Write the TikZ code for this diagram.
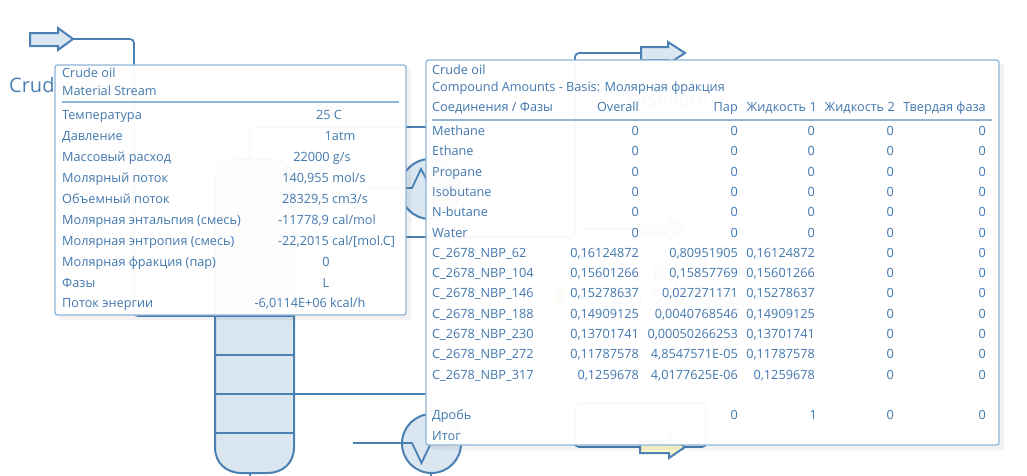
\documentclass[tikz,border=0pt]{standalone}
\usepackage{fontspec}
\setmainfont{Open Sans}
\definecolor{ln}{HTML}{4A80B4}
\definecolor{fil}{HTML}{DAE6F0}
\definecolor{bord}{HTML}{8FB5D8}
\definecolor{txt}{HTML}{4278AE}
\definecolor{yel}{HTML}{FBF7CC}
\newcommand{\tf}{\fontsize{12.7}{14}\selectfont}
\tikzset{
  x=1pt,y=-1pt,
  pipe/.style={draw=ln,line width=1.8pt,rounded corners=4pt},
  equip/.style={draw=ln,line width=2pt,fill=fil},
  panel/.style={draw=bord,line width=1.3pt,fill=white,fill opacity=.97,rounded corners=2.5pt},
  shade/.style={fill=black,fill opacity=.05,rounded corners=2.5pt},
  rule/.style={draw=bord,line width=1.3pt},
  t/.style={text=txt,font=\tf,inner sep=0pt,anchor=base west},
  r/.style={text=txt,font=\tf,inner sep=0pt,anchor=base east},
  m/.style={text=txt,font=\tf,inner sep=0pt,anchor=base},
  big/.style={text=ln,font=\fontsize{20}{24}\selectfont,inner sep=0pt},
}
\begin{document}
\begin{tikzpicture}
\useasboundingbox (0,0) rectangle (1027,475);
% ---- flowsheet
\draw[equip] (30,33) -- (58,33) -- (58,28) -- (73,39) -- (58,50) -- (58,46) -- (30,46) -- cycle;
\coordinate (feedA) at (73,39);
\coordinate (colIn) at (215,316);
\draw[pipe] (feedA) -- (134,39) -- (134,316) -- (colIn);
\node[big,anchor=base west] (cruLbl) at (9,92) {Crude oil};
% column
\draw[equip] (215,183) .. controls (215,169) and (226,159) .. (240,159) -- (269,159) .. controls (283,159) and (294,169) .. (294,183) -- (294,447) .. controls (294,463) and (283,473) .. (267,473) -- (242,473) .. controls (226,473) and (215,463) .. (215,447) -- cycle;
\foreach \y in {198,237,276,316,355,394,433} \draw[equip,fill=none] (215,\y) -- (294,\y);
\coordinate (colTop) at (250,159);
\coordinate (colBot) at (250,473);
\draw[pipe] (colBot) -- (250,476);
% condenser
\draw[equip] (430,189) circle (30);
\coordinate (condIn) at (370,188);
\coordinate (condOut) at (460,188);
\draw[pipe,rounded corners=0pt] (condIn) -- (412,188) -- (421,169) -- (431,188) -- (condOut);
\draw[pipe] (colTop) -- (250,127) -- (430,127) -- (430,159);
% reboiler
\draw[equip] (431.5,443.5) circle (29.5);
\coordinate (rebIn) at (353,443);
\coordinate (rebOut) at (470,443);
\draw[pipe,rounded corners=0pt] (rebIn) -- (412,443) -- (421.5,463) -- (431,443) -- (rebOut);
\draw[pipe] (431,473) -- (431,476);
\coordinate (colSide) at (294,394);
\coordinate (rebTop) at (431,414);
\draw[pipe] (colSide) -- (431,394) -- (rebTop);
% distillate
\draw[equip] (641,47) -- (668,47) -- (668,42) -- (685,53) -- (668,64) -- (668,60) -- (641,60) -- cycle;
\draw[pipe] (641,53) -- (575,53) -- (575,237) -- (294,237);
\node[big,anchor=base west] (distLbl) at (627,106) {Distillate};
% water draw
\draw[equip] (640,224) -- (669,224) -- (669,218) -- (685,229) -- (669,240) -- (669,235) -- (640,235) -- cycle;
\draw[pipe] (580,229) -- (640,229);
% energy
\draw[draw=ln,line width=2pt,fill=yel] (640,441) -- (669,441) -- (669,436) -- (685,447) -- (669,458) -- (669,453) -- (640,453) -- cycle;
\draw[pipe] (640,447) -- (575,447) -- (575,403) -- (706,403) -- (706,447) -- (685,447);
\fill[orange!70!yellow] (564,285) -- (553,298) -- (559,298) -- (554,307) -- (568,293) -- (562,293) -- cycle;
\node[big,anchor=base] (eLbl) at (664,281) {E1};
\node[big,anchor=base west] (eVal) at (583,304) {11 291 590,05 kcal/h};
% ---- left panel
\fill[shade] (59,69) rectangle (411,320);
\draw[panel] (55,65) rectangle (406,315);
\node[t] (a1) at (62,77) {Crude oil};
\node[t] (a2) at (62,95) {Material Stream};
\draw[rule] (62,102) -- (399,102);
\foreach \y/\k/\xc/\v in {
 119/Температура/329/{25 C},
 140/Давление/340/{1atm},
 161/Массовый расход/322/{22000 g/s},
 182/Молярный поток/324/{140,955 mol/s},
 203/Объемный поток/325/{28329,5 cm3/s},
 224/Молярная энтальпия (смесь)/327/{-11778,9 cal/mol},
 245/Молярная энтропия (смесь)/336.5/{-22,2015 cal/[mol.C]},
 266/Молярная фракция (пар)/326/{0},
 287/Фазы/326/{L},
 307/Поток энергии/310/{-6,0114E+06 kcal/h}}
 {\node[t] at (62,\y) {\k}; \node[m] at (\xc,\y) {\v};}
% ---- right panel
\fill[shade] (430,64) rectangle (1004,450);
\draw[panel] (426,60) rectangle (999,445);
\node[t] (b1) at (432,74) {Crude oil};
\node[t] (b2) at (432,91) {Compound Amounts - Basis: Молярная фракция};
\node[t] at (432,111) {Соединения / Фазы};
\node[r] at (639,111) {Overall};
\node[r] at (738,111) {Пар};
\node[r] at (817,111) {Жидкость 1};
\node[r] at (895,111) {Жидкость 2};
\node[r] at (986,111) {Твердая фаза};
\draw[rule] (432,120) -- (992,120);
\foreach \y/\k/\o/\p/\q in {
 135/Methane/0/0/0,
 155/Ethane/0/0/0,
 176/Propane/0/0/0,
 196/Isobutane/0/0/0,
 216/N-butane/0/0/0,
 237/Water/0/0/0,
 257/C\_2678\_NBP\_62/{0,16124872}/{0,80951905}/{0,16124872},
 277/C\_2678\_NBP\_104/{0,15601266}/{0,15857769}/{0,15601266},
 297/C\_2678\_NBP\_146/{0,15278637}/{0,027271171}/{0,15278637},
 318/C\_2678\_NBP\_188/{0,14909125}/{0,0040768546}/{0,14909125},
 338/C\_2678\_NBP\_230/{0,13701741}/{0,00050266253}/{0,13701741},
 358/C\_2678\_NBP\_272/{0,11787578}/{4,8547571E-05}/{0,11787578},
 379/C\_2678\_NBP\_317/{0,1259678}/{4,0177625E-06}/{0,1259678}}
 {\node[t] at (432,\y) {\k};
  \node[r] at (639,\y) {\o};
  \node[r] at (738,\y) {\p};
  \node[r] at (815,\y) {\q};
  \node[r] at (894,\y) {0};
  \node[r] at (986,\y) {0};}
\node[t] at (432,419) {Дробь};
\node[r] at (738,419) {0};
\node[r] at (817,419) {1};
\node[r] at (894,419) {0};
\node[r] at (986,419) {0};
\node[t] at (432,440) {Итог};
\end{tikzpicture}
\end{document}
